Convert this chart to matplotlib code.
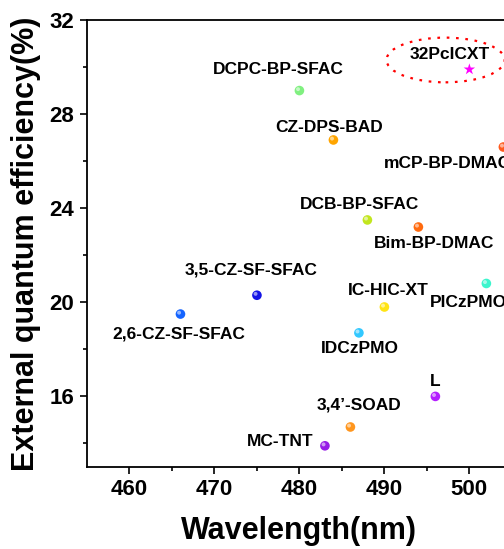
import numpy as np
import matplotlib
matplotlib.use('Agg')
import matplotlib.pyplot as plt
import matplotlib.transforms as mtransforms
from matplotlib.patches import Ellipse

plt.rcParams['font.family'] = ['Liberation Sans', 'DejaVu Sans']
plt.rcParams['font.weight'] = 'bold'

# data
names = ['DCPC-BP-SFAC', 'CZ-DPS-BAD', 'mCP-BP-DMAC', 'DCB-BP-SFAC', 'Bim-BP-DMAC',
         '3,5-CZ-SF-SFAC', '2,6-CZ-SF-SFAC', 'IC-HIC-XT', 'PICzPMO', 'IDCzPMO',
         'L', '3,4\u2019-SOAD', 'MC-TNT']
wavelength = [480, 484, 504, 488, 494, 475, 466, 490, 502, 487, 496, 486, 483]
eqe = [29.0, 26.9, 26.6, 23.5, 23.2, 20.3, 19.5, 19.8, 20.8, 18.7, 16.0, 14.7, 13.9]
colors = ['#80f080', '#ffa500', '#ff5a1e', '#c2e61e', '#ff6a0e',
          '#1414e6', '#1464ff', '#ffe414', '#3cf5cd', '#32c8ff',
          '#b41eff', '#ff961e', '#961ee6']

star_name = '32PcICXT'
star_wl = 500
star_eqe = 29.9

# label offsets (points) relative to each marker
label_off = [(-15, 15), (-3, 9), (-40, -12), (-6, 11), (11, -12),
             (-4, 18), (-1, -14), (3, 12), (-13, -14), (1, -11),
             (0, 11), (6, 16), (-32, 3)]

fig = plt.figure(figsize=(5.04, 5.49), dpi=100)
ax = fig.add_axes([0.1726, 0.1494, 0.843, 0.8142])
ax.set_xlim(455, 505)
ax.set_ylim(13, 32)

# ball-like markers: base dot plus small highlight
ax.scatter(wavelength, eqe, s=48, c=colors, edgecolors='none', zorder=3,
           clip_on=False)
hl = mtransforms.offset_copy(ax.transData, fig=fig, x=-1.0, y=1.0, units='points')
ax.scatter(wavelength, eqe, s=8, c='white', alpha=0.55, edgecolors='none',
           transform=hl, zorder=4, clip_on=False)

ax.scatter([star_wl], [star_eqe], marker='*', s=75, c='#ff00ff',
           edgecolors='none', zorder=3)

for n, x, y, (dx, dy) in zip(names, wavelength, eqe, label_off):
    ax.annotate(n, (x, y), xytext=(dx, dy), textcoords='offset points',
                ha='center', va='center', fontsize=12.5, fontweight='bold')
ax.annotate(star_name, (star_wl, star_eqe), xytext=(-14, 11),
            textcoords='offset points', ha='center', va='center',
            fontsize=12.5, fontweight='bold')

ax.add_patch(Ellipse((497.2, 30.3), 13.9, 1.9, fill=False, edgecolor='red',
                     linestyle=(0, (1.2, 3)), linewidth=1.6, zorder=2,
                     clip_on=False))

ax.set_xticks([460, 470, 480, 490, 500, 505])
ax.set_xticks([465, 475, 485, 495], minor=True)
ax.set_xticklabels(['460', '470', '480', '490', '500', ''])
ax.set_yticks([16, 20, 24, 28, 32])
ax.set_yticks([14, 18, 22, 26, 30], minor=True)
ax.tick_params(which='major', direction='out', length=5, width=1.2,
               labelsize=16, pad=4)
ax.tick_params(axis='x', which='major', pad=3.5)
ax.tick_params(which='minor', direction='out', length=3, width=1.2)
for t in ax.get_xticklabels() + ax.get_yticklabels():
    t.set_fontweight('bold')
for s in ax.spines.values():
    s.set_linewidth(1.3)

ax.set_xlabel('Wavelength(nm)', fontsize=22, fontweight='bold', labelpad=12)
ax.set_ylabel('External quantum efficiency(%)', fontsize=22, fontweight='bold',
              labelpad=6)

fig.savefig('out.png', dpi=100)
